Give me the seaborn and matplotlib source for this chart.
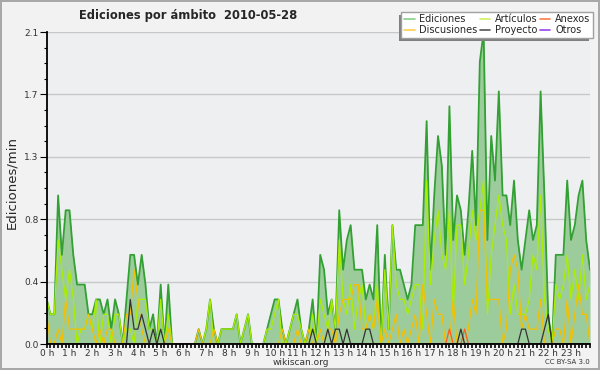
import numpy as np
import pandas as pd
import matplotlib
matplotlib.use("Agg")
import matplotlib.pyplot as plt
from matplotlib.lines import Line2D
from matplotlib.patches import Rectangle
from matplotlib.ticker import FixedLocator, MultipleLocator
import seaborn as sns

# edits per minute, one value every 10 minutes (6 per hour, one row per hour)
ediciones = [
    0.3, 0.2, 0.2, 1.0, 0.6, 0.9,
    0.9, 0.6, 0.4, 0.4, 0.4, 0.2,
    0.2, 0.3, 0.3, 0.2, 0.3, 0.1,
    0.3, 0.2, 0.0, 0.3, 0.6, 0.6,
    0.4, 0.6, 0.4, 0.1, 0.2, 0.0,
    0.4, 0.0, 0.4, 0.0, 0.0, 0.0,
    0.0, 0.0, 0.0, 0.0, 0.1, 0.0,
    0.1, 0.3, 0.1, 0.0, 0.1, 0.1,
    0.1, 0.1, 0.2, 0.0, 0.1, 0.2,
    0.0, 0.0, 0.0, 0.0, 0.1, 0.2,
    0.3, 0.3, 0.1, 0.0, 0.1, 0.2,
    0.3, 0.1, 0.0, 0.1, 0.3, 0.0,
    0.6, 0.5, 0.2, 0.3, 0.1, 0.9,
    0.5, 0.7, 0.8, 0.5, 0.5, 0.5,
    0.3, 0.4, 0.3, 0.8, 0.0, 0.6,
    0.1, 0.8, 0.5, 0.5, 0.4, 0.3,
    0.4, 0.8, 0.8, 0.8, 1.5, 0.5,
    1.0, 1.4, 1.2, 0.6, 1.6, 0.7,
    1.0, 0.9, 0.6, 0.9, 1.3, 0.8,
    1.9, 2.1, 0.7, 1.4, 1.1, 1.7,
    1.0, 1.0, 0.8, 1.1, 0.7, 0.5,
    0.7, 0.9, 0.7, 0.8, 1.7, 1.0,
    0.2, 0.0, 0.6, 0.6, 0.6, 1.1,
    0.7, 0.8, 1.0, 1.1, 0.7, 0.5,
]

articulos = [
    0.3, 0.2, 0.2, 0.7, 0.5, 0.3,
    0.5, 0.3, 0.0, 0.1, 0.1, 0.2,
    0.1, 0.3, 0.0, 0.2, 0.2, 0.0,
    0.2, 0.2, 0.0, 0.1, 0.1, 0.0,
    0.3, 0.3, 0.3, 0.1, 0.1, 0.0,
    0.3, 0.0, 0.2, 0.0, 0.0, 0.0,
    0.0, 0.0, 0.0, 0.0, 0.0, 0.0,
    0.1, 0.3, 0.0, 0.0, 0.1, 0.1,
    0.1, 0.1, 0.2, 0.0, 0.1, 0.2,
    0.0, 0.0, 0.0, 0.0, 0.1, 0.1,
    0.2, 0.3, 0.0, 0.0, 0.1, 0.2,
    0.2, 0.1, 0.0, 0.0, 0.2, 0.0,
    0.3, 0.2, 0.1, 0.3, 0.1, 0.7,
    0.3, 0.2, 0.4, 0.1, 0.3, 0.4,
    0.1, 0.2, 0.1, 0.4, 0.0, 0.5,
    0.1, 0.8, 0.4, 0.3, 0.3, 0.2,
    0.3, 0.4, 0.4, 0.1, 1.1, 0.4,
    0.7, 0.9, 0.6, 0.5, 0.9, 0.2,
    0.8, 0.8, 0.4, 0.6, 0.9, 0.7,
    0.9, 1.1, 0.2, 0.6, 0.8, 1.0,
    0.8, 0.7, 0.2, 0.4, 0.2, 0.2,
    0.2, 0.3, 0.6, 0.5, 1.0, 0.3,
    0.1, 0.0, 0.4, 0.3, 0.4, 0.6,
    0.3, 0.5, 0.3, 0.6, 0.3, 0.4,
]

discusiones = [
    0.2, 0.0, 0.0, 0.1, 0.0, 0.3,
    0.1, 0.1, 0.1, 0.1, 0.1, 0.2,
    0.1, 0.0, 0.1, 0.0, 0.1, 0.1,
    0.0, 0.0, 0.0, 0.2, 0.2, 0.5,
    0.3, 0.1, 0.0, 0.0, 0.0, 0.0,
    0.0, 0.0, 0.1, 0.0, 0.0, 0.0,
    0.0, 0.0, 0.0, 0.0, 0.1, 0.0,
    0.0, 0.0, 0.1, 0.0, 0.0, 0.0,
    0.0, 0.0, 0.0, 0.0, 0.0, 0.0,
    0.0, 0.0, 0.0, 0.0, 0.0, 0.0,
    0.0, 0.0, 0.1, 0.0, 0.0, 0.0,
    0.1, 0.0, 0.0, 0.1, 0.0, 0.0,
    0.1, 0.0, 0.1, 0.1, 0.0, 0.2,
    0.3, 0.3, 0.3, 0.4, 0.4, 0.1,
    0.1, 0.2, 0.1, 0.3, 0.0, 0.1,
    0.0, 0.1, 0.2, 0.0, 0.1, 0.0,
    0.1, 0.2, 0.0, 0.4, 0.2, 0.0,
    0.3, 0.2, 0.2, 0.0, 0.0, 0.3,
    0.0, 0.0, 0.0, 0.1, 0.3, 0.2,
    0.9, 0.9, 0.3, 0.3, 0.3, 0.3,
    0.0, 0.1, 0.5, 0.6, 0.5, 0.1,
    0.2, 0.1, 0.1, 0.1, 0.3, 0.0,
    0.0, 0.0, 0.1, 0.1, 0.0, 0.3,
    0.0, 0.2, 0.4, 0.2, 0.2, 0.0,
]

proyecto = [
    0.0, 0.0, 0.0, 0.0, 0.0, 0.0,
    0.0, 0.0, 0.0, 0.0, 0.0, 0.0,
    0.0, 0.0, 0.0, 0.0, 0.0, 0.0,
    0.0, 0.0, 0.0, 0.0, 0.3, 0.1,
    0.1, 0.2, 0.1, 0.0, 0.1, 0.0,
    0.1, 0.0, 0.0, 0.0, 0.0, 0.0,
    0.0, 0.0, 0.0, 0.0, 0.0, 0.0,
    0.0, 0.0, 0.0, 0.0, 0.0, 0.0,
    0.0, 0.0, 0.0, 0.0, 0.0, 0.0,
    0.0, 0.0, 0.0, 0.0, 0.0, 0.0,
    0.0, 0.0, 0.0, 0.0, 0.0, 0.0,
    0.0, 0.0, 0.0, 0.0, 0.1, 0.0,
    0.0, 0.0, 0.1, 0.0, 0.1, 0.1,
    0.0, 0.1, 0.0, 0.0, 0.0, 0.0,
    0.1, 0.1, 0.0, 0.0, 0.0, 0.0,
    0.0, 0.0, 0.0, 0.0, 0.0, 0.0,
    0.0, 0.0, 0.0, 0.0, 0.0, 0.0,
    0.0, 0.0, 0.0, 0.0, 0.0, 0.0,
    0.0, 0.1, 0.0, 0.0, 0.0, 0.0,
    0.0, 0.0, 0.0, 0.0, 0.0, 0.0,
    0.0, 0.0, 0.0, 0.0, 0.0, 0.1,
    0.1, 0.0, 0.0, 0.0, 0.0, 0.1,
    0.2, 0.0, 0.0, 0.0, 0.0, 0.0,
    0.0, 0.0, 0.0, 0.0, 0.0, 0.0,
]

anexos = [0.0] * 144
anexos[106] = 0.1
anexos[110] = 0.1

otros = [0.0] * 144

series_names = ["Ediciones", "Artículos", "Discusiones", "Anexos", "Proyecto", "Otros"]
hours = list(range(24))
hour_labels = [f"{h} h" for h in hours]
y_ticks = [0.0, 0.42, 0.84, 1.26, 1.68, 2.1]
y_labels = ["0.0", "0.4", "0.8", "1.3", "1.7", "2.1"]

line_colors = {
    "Ediciones": "#33a033",
    "Artículos": "#aaee00",
    "Discusiones": "#f5c000",
    "Anexos": "#ff5a1e",
    "Proyecto": "#333333",
    "Otros": "#9933ee",
}
legend_colors = {
    "Ediciones": "#88d088",
    "Artículos": "#d0f060",
    "Discusiones": "#ffd050",
    "Anexos": "#ff7a4a",
    "Proyecto": "#555555",
    "Otros": "#9944ee",
}

df = pd.DataFrame({
    "slot": np.arange(len(ediciones)),
    "Ediciones": ediciones,
    "Artículos": articulos,
    "Discusiones": discusiones,
    "Anexos": anexos,
    "Proyecto": proyecto,
    "Otros": otros,
})
long_df = df.melt(id_vars="slot", var_name="serie", value_name="valor")

sns.set_style("white")
plt.rcParams["font.family"] = ["DejaVu Sans"]

fig = plt.figure(figsize=(6, 3.7), dpi=100)
fig.patch.set_facecolor("#f2f2f2")
fig.patch.set_edgecolor("#a8a8a8")
fig.patch.set_linewidth(1.5)

ax = fig.add_axes([46.7 / 600, 26 / 370, 543.3 / 600, 312 / 370])
ax.set_facecolor("#eeeff1")

# total area
ax.fill_between(df["slot"], df["Ediciones"], color="#9ccc9c", linewidth=0, zorder=1)

for name in series_names:
    sub = long_df[long_df["serie"] == name]
    sns.lineplot(
        data=sub, x="slot", y="valor", ax=ax,
        color=line_colors[name],
        linewidth=1.3 if name == "Ediciones" else 0.9,
        legend=False, zorder=2,
    )

ax.set_xlim(0, 143)
ax.set_ylim(0, 2.1)

ax.xaxis.set_major_locator(FixedLocator([h * 6 for h in hours]))
ax.set_xticklabels(hour_labels)
ax.xaxis.set_minor_locator(MultipleLocator(1))
ax.yaxis.set_major_locator(FixedLocator(y_ticks))
ax.set_yticklabels(y_labels)
ax.yaxis.set_minor_locator(MultipleLocator(0.105))

ax.tick_params(axis="x", which="major", direction="out", length=3, width=1.2,
               labelsize=6.5, colors="#000000", labelcolor="#333333", pad=0.5, bottom=True)
ax.tick_params(axis="x", which="minor", direction="out", length=3, width=1.2,
               colors="#000000", bottom=True)
ax.tick_params(axis="y", which="major", direction="out", length=5, width=0.8,
               labelsize=6.5, colors="#000000", labelcolor="#333333", pad=1, left=True)
ax.tick_params(axis="y", which="minor", direction="out", length=2.5, width=0.8,
               colors="#000000", left=True)

ax.grid(axis="y", which="major", color="#c8c8c8", linewidth=1)
ax.grid(axis="x", visible=False)
ax.set_axisbelow(True)

for side in ["top", "right"]:
    ax.spines[side].set_visible(False)
for side in ["left", "bottom"]:
    ax.spines[side].set_color("#000000")
    ax.spines[side].set_linewidth(1.3)
    ax.spines[side].set_zorder(3)

ax.set_xlabel("")
ax.set_ylabel("")

fig.text(188 / 600, 1 - 15 / 370, "Ediciones por ámbito  2010-05-28",
         ha="center", va="center", fontsize=8.3, fontweight="bold")
fig.text(12 / 600, 1 - 182 / 370, "Ediciones/min", rotation=90,
         ha="center", va="center", fontsize=9.5)
fig.text(301 / 600, 1 - 362.5 / 370, "wikiscan.org",
         ha="center", va="center", fontsize=6.5, color="#333333")
fig.text(590 / 600, 1 - 362.5 / 370, "CC BY-SA 3.0",
         ha="right", va="center", fontsize=5, color="#333333")

labels = ["Ediciones", "Discusiones", "Artículos", "Proyecto", "Anexos", "Otros"]
handles = [Line2D([0], [0], color=legend_colors[n], linewidth=1.2) for n in labels]
leg = fig.legend(handles, labels, ncol=3, loc="upper right",
                 bbox_to_anchor=(593 / 600, 1 - 12 / 370),
                 fontsize=7, frameon=True, fancybox=False,
                 handlelength=1.1, handletextpad=0.5, columnspacing=0.2,
                 labelspacing=0.1, borderpad=0.25, borderaxespad=0)
leg.get_frame().set_facecolor("#ffffff")
leg.get_frame().set_edgecolor("#a0a0a0")
leg.get_frame().set_linewidth(1)
leg.get_frame().set_alpha(1)
leg.set_zorder(6)

# drop shadow on the left / bottom side of the legend box
shadow = Rectangle((399 / 600, 1 - 41 / 370), 190 / 600, 26 / 370,
                   transform=fig.transFigure, facecolor="#808080",
                   edgecolor="none", zorder=5)
fig.add_artist(shadow)

fig.savefig("out.png", dpi=100, facecolor=fig.get_facecolor(),
            edgecolor=fig.get_edgecolor())
